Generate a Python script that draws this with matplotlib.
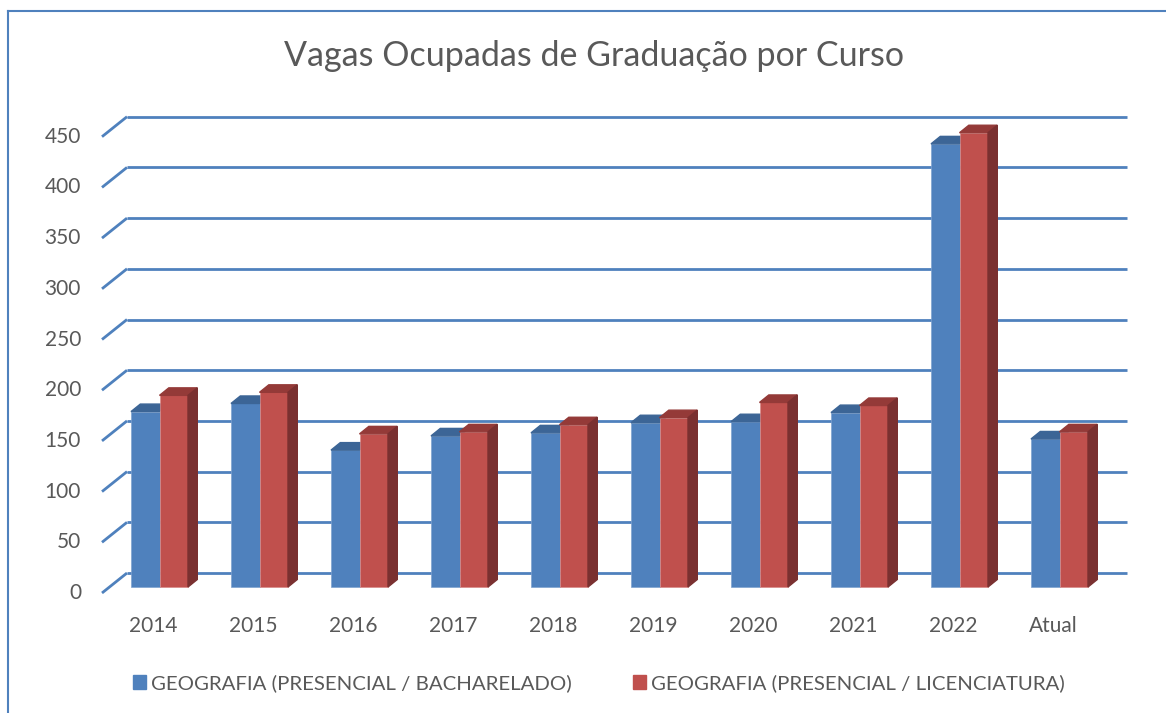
import matplotlib
matplotlib.use('Agg')
import matplotlib.pyplot as plt
from matplotlib.patches import Polygon, Patch
from matplotlib.lines import Line2D

# data
categories = ['2014', '2015', '2016', '2017', '2018', '2019', '2020', '2021', '2022', 'Atual']
bacharelado = [173, 181, 135, 149, 152, 162, 163, 172, 437, 146]
licenciatura = [189, 192, 151, 153, 160, 167, 182, 179, 448, 153]
series_names = ['GEOGRAFIA (PRESENCIAL / BACHARELADO)', 'GEOGRAFIA (PRESENCIAL / LICENCIATURA)']
yticks = list(range(0, 451, 50))

plt.rcParams['font.family'] = ['Lato', 'DejaVu Sans']
txt = '#595959'
blue, red = '#4F81BD', '#C0504D'
blue_top, red_top, red_side = '#3C6596', '#943A38', '#7A3030'
grid_col = '#4F81BD'

W, H = 1166, 713
fig = plt.figure(figsize=(W / 100, H / 100), dpi=100)
ax = fig.add_axes([0, 0, 1, 1])
ax.set_axis_off()

# scales: 100 px per category, ~1.014 px per unit
px_x = 100.0
px_y = 1.014
x0 = -0.5 - 109.5 / px_x
y0 = -(H - 587) / px_y
ax.set_xlim(x0, x0 + W / px_x)
ax.set_ylim(y0, y0 + H / px_y)

# 3d offsets (in data units)
back_dx, back_dy = 17.5 / px_x, 14 / px_y      # back wall relative to bar fronts
front_dx, front_dy = -7.5 / px_x, -6 / px_y    # axis front edge relative to bar fronts
dep_x, dep_y = 9.3 / px_x, 7.5 / px_y          # bar depth
bw = 0.285

n = len(categories)
# gridlines on back wall + diagonal floor lines
for v in yticks:
    ax.plot([-0.5 + back_dx, n - 0.5 + back_dx], [v + back_dy, v + back_dy],
            color=grid_col, lw=2, zorder=1, solid_capstyle='butt')
    ax.plot([-0.5 + front_dx, -0.5 + back_dx], [v + front_dy, v + back_dy],
            color=grid_col, lw=2, zorder=1, solid_capstyle='butt')
    ax.text(-0.5 + front_dx - 0.21, v + front_dy, str(v), ha='right', va='center',
            fontsize=15, color=txt)

xs = list(range(n))
bars_b = ax.bar([x - bw / 2 for x in xs], bacharelado, width=bw, color=blue,
                edgecolor='#7FA3D0', linewidth=0.5, zorder=3)
bars_r = ax.bar([x + bw / 2 for x in xs], licenciatura, width=bw, color=red,
                edgecolor='#D98A88', linewidth=0.5, zorder=5)

for x, vb, vr in zip(xs, bacharelado, licenciatura):
    lb = x - bw
    ax.add_patch(Polygon([(lb, vb), (lb + bw, vb), (lb + bw + dep_x, vb + dep_y),
                          (lb + dep_x, vb + dep_y)], closed=True, color=blue_top, zorder=3))
    lr = x
    ax.add_patch(Polygon([(lr, vr), (lr + bw, vr), (lr + bw + dep_x, vr + dep_y),
                          (lr + dep_x, vr + dep_y)], closed=True, color=red_top, zorder=5))
    ax.add_patch(Polygon([(lr + bw, 0), (lr + bw + dep_x, dep_y), (lr + bw + dep_x, vr + dep_y),
                          (lr + bw, vr)], closed=True, color=red_side, zorder=5))
    ax.text(x - 0.06, -38, categories[x], ha='center', va='center', fontsize=15, color=txt)

fig.text(594 / W, 1 - 56 / H, 'Vagas Ocupadas de Graduação por Curso', ha='center', va='center',
         fontsize=24.5, color=txt)

# chart area border (cropped on right and bottom)
fig.add_artist(Line2D([8 / W, 8 / W], [0, 1 - 11 / H], color=grid_col, lw=1.5))
fig.add_artist(Line2D([8 / W, 1], [1 - 11 / H, 1 - 11 / H], color=grid_col, lw=1.5))

handles = [Patch(color=blue), Patch(color=red)]
fig.legend(handles, series_names, loc='center', bbox_to_anchor=(599 / W, 1 - 683 / H), ncol=2,
           frameon=False, fontsize=14.7, labelcolor=txt, handlelength=0.64, handleheight=0.64,
           handletextpad=0.25, columnspacing=3.0)

fig.savefig('out.png', dpi=100)
